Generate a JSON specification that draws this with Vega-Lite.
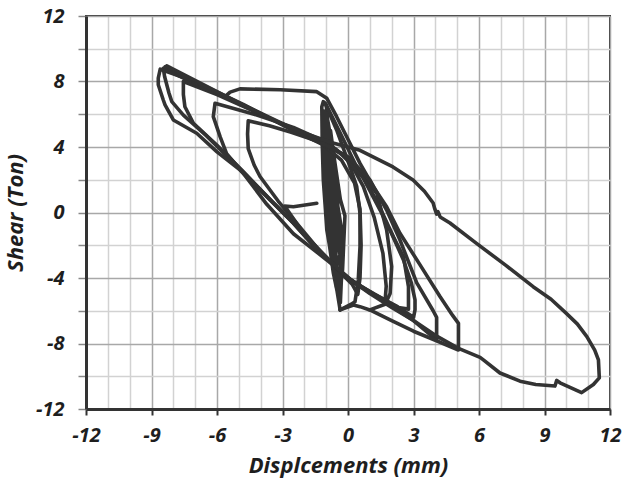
{
"$schema": "https://vega.github.io/schema/vega-lite/v6.json",
"width": 524, "height": 393,
"autosize": {"type": "none"},
"padding": {"left": 86, "top": 16, "right": 13, "bottom": 77},
"background": "white",
"config": {"view": {"stroke": "#333333", "strokeWidth": 2}, "font": "Open Sans"},
"data": {"values": [
{"s":"p","i":0,"x":-0.36,"y":-5.95},{"s":"p","i":1,"x":-0.5,"y":-4.8},{"s":"p","i":2,"x":-0.67,"y":-3.71},{"s":"p","i":3,"x":-0.85,"y":-2.0},{"s":"p","i":4,"x":-0.97,"y":-1.07},{"s":"p","i":5,"x":-1.05,"y":0.5},{"s":"p","i":6,"x":-1.13,"y":1.98},{"s":"p","i":7,"x":-1.18,"y":4.2},{"s":"p","i":8,"x":-1.2,"y":6.46},{"s":"p","i":9,"x":-1.13,"y":6.77},{"s":"p","i":10,"x":-1.0,"y":6.6},{"s":"p","i":11,"x":-0.9,"y":5.2},{"s":"p","i":12,"x":-0.75,"y":3.0},{"s":"p","i":13,"x":-0.55,"y":0.5},{"s":"p","i":14,"x":-0.4,"y":-2.0},{"s":"p","i":15,"x":-0.3,"y":-4.0},{"s":"p","i":16,"x":-0.35,"y":-5.5},{"s":"p","i":17,"x":-0.55,"y":-4.5},{"s":"p","i":18,"x":-0.75,"y":-2.5},{"s":"p","i":19,"x":-0.85,"y":-0.5},{"s":"p","i":20,"x":-0.95,"y":1.5},{"s":"p","i":21,"x":-1.05,"y":4.0},{"s":"p","i":22,"x":-1.1,"y":6.2},{"s":"p","i":23,"x":-0.95,"y":5.8},{"s":"p","i":24,"x":-0.65,"y":3.5},{"s":"p","i":25,"x":-0.35,"y":0.8},{"s":"p","i":26,"x":-0.14,"y":-0.2},{"s":"p","i":27,"x":-0.2,"y":-2.0},{"s":"p","i":28,"x":-0.25,"y":-3.5},{"s":"p","i":29,"x":-0.4,"y":-5.0},{"s":"p","i":30,"x":-0.6,"y":-3.0},{"s":"p","i":31,"x":-0.75,"y":-1.0},{"s":"p","i":32,"x":-0.85,"y":1.0},{"s":"p","i":33,"x":-0.9,"y":3.5},{"s":"p","i":34,"x":-0.8,"y":5.0},{"s":"p","i":35,"x":-0.55,"y":2.5},{"s":"p","i":36,"x":-0.45,"y":0.0},{"s":"p","i":37,"x":-0.35,"y":-2.5},{"s":"p","i":38,"x":-0.5,"y":-3.2},{"s":"p","i":39,"x":-0.65,"y":-1.5},{"s":"p","i":40,"x":-0.7,"y":0.5},{"s":"p","i":41,"x":-0.8,"y":2.5},{"s":"p","i":42,"x":-0.95,"y":4.5},{"s":"p","i":43,"x":-1.0,"y":6.0},{"s":"p","i":44,"x":-0.85,"y":4.0},{"s":"p","i":45,"x":-0.6,"y":1.5},{"s":"p","i":46,"x":-0.3,"y":-1.0},{"s":"p","i":47,"x":-0.3,"y":-3.0},{"s":"p","i":48,"x":-0.45,"y":-4.2},{"s":"p","i":49,"x":-0.7,"y":-2.0},{"s":"p","i":50,"x":-0.9,"y":0.0},{"s":"p","i":51,"x":-1.0,"y":2.5},{"s":"p","i":52,"x":-0.7,"y":1.0},{"s":"p","i":53,"x":-0.5,"y":-1.0},{"s":"p","i":54,"x":-0.55,"y":-2.5},

{"s":"r1","i":0,"x":-1.05,"y":6.67},{"s":"r1","i":1,"x":-0.52,"y":5.04},{"s":"r1","i":2,"x":0.09,"y":2.8},{"s":"r1","i":3,"x":0.4,"y":1.58},{"s":"r1","i":4,"x":0.55,"y":-0.05},{"s":"r1","i":5,"x":0.55,"y":-2.09},{"s":"r1","i":6,"x":0.47,"y":-4.12},{"s":"r1","i":7,"x":0.32,"y":-5.45},{"s":"r1","i":8,"x":0.15,"y":-5.6},{"s":"r1","i":9,"x":-0.36,"y":-5.95},

{"s":"r2","i":0,"x":-0.97,"y":6.5},{"s":"r2","i":1,"x":-0.3,"y":4.7},{"s":"r2","i":2,"x":0.5,"y":2.5},{"s":"r2","i":3,"x":1.32,"y":1.17},{"s":"r2","i":4,"x":1.77,"y":-1.07},{"s":"r2","i":5,"x":2.0,"y":-3.3},{"s":"r2","i":6,"x":1.93,"y":-4.94},{"s":"r2","i":7,"x":1.7,"y":-5.6},{"s":"r2","i":8,"x":1.0,"y":-5.95},

{"s":"c1","i":0,"x":-4.57,"y":5.6},{"s":"c1","i":1,"x":-4.6,"y":4.8},{"s":"c1","i":2,"x":-4.57,"y":3.9},{"s":"c1","i":3,"x":-4.3,"y":2.9},{"s":"c1","i":4,"x":-4.03,"y":2.2},{"s":"c1","i":5,"x":-3.2,"y":0.7},{"s":"c1","i":6,"x":-2.2,"y":-0.9},{"s":"c1","i":7,"x":-1.2,"y":-2.5},{"s":"c1","i":8,"x":-0.4,"y":-3.6},{"s":"c1","i":9,"x":0.2,"y":-4.4},{"s":"c1","i":10,"x":0.45,"y":-5.0},{"s":"c1","i":11,"x":0.55,"y":-4.0},{"s":"c1","i":12,"x":0.6,"y":-2.0},{"s":"c1","i":13,"x":0.55,"y":0.2},{"s":"c1","i":14,"x":0.3,"y":1.8},{"s":"c1","i":15,"x":-0.3,"y":3.2},{"s":"c1","i":16,"x":-1.28,"y":4.3},{"s":"c1","i":17,"x":-2.6,"y":4.9},{"s":"c1","i":18,"x":-3.6,"y":5.3},{"s":"c1","i":19,"x":-4.57,"y":5.6},

{"s":"c2","i":0,"x":-6.09,"y":6.67},{"s":"c2","i":1,"x":-6.17,"y":5.85},{"s":"c2","i":2,"x":-5.85,"y":4.6},{"s":"c2","i":3,"x":-5.56,"y":3.6},{"s":"c2","i":4,"x":-4.8,"y":2.4},{"s":"c2","i":5,"x":-3.72,"y":0.5},{"s":"c2","i":6,"x":-2.5,"y":-1.3},{"s":"c2","i":7,"x":-0.97,"y":-2.9},{"s":"c2","i":8,"x":0.2,"y":-4.2},{"s":"c2","i":9,"x":1.0,"y":-4.9},{"s":"c2","i":10,"x":1.7,"y":-5.4},{"s":"c2","i":11,"x":1.75,"y":-4.5},{"s":"c2","i":12,"x":1.6,"y":-2.5},{"s":"c2","i":13,"x":1.2,"y":-0.3},{"s":"c2","i":14,"x":0.7,"y":1.6},{"s":"c2","i":15,"x":0.0,"y":3.3},{"s":"c2","i":16,"x":-1.0,"y":4.3},{"s":"c2","i":17,"x":-2.5,"y":5.2},{"s":"c2","i":18,"x":-4.3,"y":6.0},{"s":"c2","i":19,"x":-6.09,"y":6.67},

{"s":"c3","i":0,"x":-7.54,"y":8.0},{"s":"c3","i":1,"x":-7.54,"y":7.2},{"s":"c3","i":2,"x":-7.47,"y":6.46},{"s":"c3","i":3,"x":-7.08,"y":5.45},{"s":"c3","i":4,"x":-6.0,"y":4.1},{"s":"c3","i":5,"x":-4.8,"y":2.5},{"s":"c3","i":6,"x":-3.5,"y":0.7},{"s":"c3","i":7,"x":-2.3,"y":-0.9},{"s":"c3","i":8,"x":-1.0,"y":-2.8},{"s":"c3","i":9,"x":0.3,"y":-4.3},{"s":"c3","i":10,"x":1.5,"y":-5.2},{"s":"c3","i":11,"x":2.3,"y":-5.8},{"s":"c3","i":12,"x":2.77,"y":-5.9},{"s":"c3","i":13,"x":2.77,"y":-5.0},{"s":"c3","i":14,"x":2.77,"y":-4.53},{"s":"c3","i":15,"x":2.54,"y":-2.7},{"s":"c3","i":16,"x":2.08,"y":-1.48},{"s":"c3","i":17,"x":1.3,"y":0.76},{"s":"c3","i":18,"x":0.5,"y":2.6},{"s":"c3","i":19,"x":-0.6,"y":3.9},{"s":"c3","i":20,"x":-2.0,"y":4.8},{"s":"c3","i":21,"x":-4.0,"y":6.0},{"s":"c3","i":22,"x":-6.0,"y":7.2},{"s":"c3","i":23,"x":-7.54,"y":8.0},

{"s":"c4","i":0,"x":-8.46,"y":8.8},{"s":"c4","i":1,"x":-8.4,"y":8.3},{"s":"c4","i":2,"x":-8.2,"y":7.3},{"s":"c4","i":3,"x":-8.07,"y":6.77},{"s":"c4","i":4,"x":-7.54,"y":5.95},{"s":"c4","i":5,"x":-6.5,"y":4.7},{"s":"c4","i":6,"x":-5.2,"y":3.0},{"s":"c4","i":7,"x":-3.8,"y":1.1},{"s":"c4","i":8,"x":-2.6,"y":-0.5},{"s":"c4","i":9,"x":-1.3,"y":-2.4},{"s":"c4","i":10,"x":0.0,"y":-4.0},{"s":"c4","i":11,"x":1.2,"y":-5.0},{"s":"c4","i":12,"x":2.2,"y":-5.7},{"s":"c4","i":13,"x":3.0,"y":-6.4},{"s":"c4","i":14,"x":3.07,"y":-5.95},{"s":"c4","i":15,"x":3.07,"y":-5.34},{"s":"c4","i":16,"x":2.9,"y":-4.3},{"s":"c4","i":17,"x":2.54,"y":-2.9},{"s":"c4","i":18,"x":2.0,"y":-1.3},{"s":"c4","i":19,"x":1.47,"y":0.15},{"s":"c4","i":20,"x":0.7,"y":2.1},{"s":"c4","i":21,"x":-0.3,"y":3.6},{"s":"c4","i":22,"x":-1.74,"y":4.53},{"s":"c4","i":23,"x":-3.5,"y":5.7},{"s":"c4","i":24,"x":-5.5,"y":6.95},{"s":"c4","i":25,"x":-7.2,"y":8.0},{"s":"c4","i":26,"x":-8.46,"y":8.8},

{"s":"c5","i":0,"x":-8.6,"y":8.75},{"s":"c5","i":1,"x":-8.69,"y":8.2},{"s":"c5","i":2,"x":-8.69,"y":7.8},{"s":"c5","i":3,"x":-8.46,"y":6.87},{"s":"c5","i":4,"x":-8.38,"y":6.57},{"s":"c5","i":5,"x":-8.0,"y":5.65},{"s":"c5","i":6,"x":-6.93,"y":4.84},{"s":"c5","i":7,"x":-6.0,"y":3.7},{"s":"c5","i":8,"x":-4.95,"y":2.6},{"s":"c5","i":9,"x":-3.57,"y":0.76},{"s":"c5","i":10,"x":-2.5,"y":-0.66},{"s":"c5","i":11,"x":-1.28,"y":-2.49},{"s":"c5","i":12,"x":0.0,"y":-4.0},{"s":"c5","i":13,"x":1.5,"y":-5.3},{"s":"c5","i":14,"x":3.0,"y":-6.6},{"s":"c5","i":15,"x":4.06,"y":-7.8},{"s":"c5","i":16,"x":4.06,"y":-7.0},{"s":"c5","i":17,"x":4.06,"y":-6.4},{"s":"c5","i":18,"x":3.9,"y":-6.0},{"s":"c5","i":19,"x":3.15,"y":-4.3},{"s":"c5","i":20,"x":2.38,"y":-1.68},{"s":"c5","i":21,"x":1.77,"y":0.15},{"s":"c5","i":22,"x":1.0,"y":2.0},{"s":"c5","i":23,"x":0.0,"y":3.4},{"s":"c5","i":24,"x":-1.0,"y":4.1},{"s":"c5","i":25,"x":-2.5,"y":5.0},{"s":"c5","i":26,"x":-4.8,"y":6.6},{"s":"c5","i":27,"x":-7.0,"y":8.0},{"s":"c5","i":28,"x":-8.6,"y":8.75},

{"s":"c6","i":0,"x":-8.38,"y":8.9},{"s":"c6","i":1,"x":-7.08,"y":8.04},{"s":"c6","i":2,"x":-5.63,"y":7.08},{"s":"c6","i":3,"x":-5.4,"y":7.35},{"s":"c6","i":4,"x":-4.95,"y":7.55},{"s":"c6","i":5,"x":-3.1,"y":7.5},{"s":"c6","i":6,"x":-1.43,"y":7.38},{"s":"c6","i":7,"x":-0.97,"y":6.97},{"s":"c6","i":8,"x":-0.52,"y":5.85},{"s":"c6","i":9,"x":-0.06,"y":4.63},{"s":"c6","i":10,"x":0.55,"y":3.0},{"s":"c6","i":11,"x":1.16,"y":1.58},{"s":"c6","i":12,"x":1.77,"y":0.35},{"s":"c6","i":13,"x":2.38,"y":-1.27},{"s":"c6","i":14,"x":3.3,"y":-3.2},{"s":"c6","i":15,"x":4.22,"y":-5.14},{"s":"c6","i":16,"x":4.8,"y":-6.3},{"s":"c6","i":17,"x":5.06,"y":-6.77},{"s":"c6","i":18,"x":5.06,"y":-7.6},{"s":"c6","i":19,"x":5.06,"y":-8.4},{"s":"c6","i":20,"x":4.0,"y":-7.8},{"s":"c6","i":21,"x":3.0,"y":-7.25},{"s":"c6","i":22,"x":2.0,"y":-6.6},{"s":"c6","i":23,"x":1.0,"y":-5.95},{"s":"c6","i":24,"x":0.55,"y":-5.75},{"s":"c6","i":25,"x":0.25,"y":-5.65},{"s":"c6","i":26,"x":-0.36,"y":-5.95},

{"s":"big","i":0,"x":-8.3,"y":8.95},{"s":"big","i":1,"x":-5.0,"y":6.7},{"s":"big","i":2,"x":-2.2,"y":4.93},{"s":"big","i":3,"x":-0.69,"y":4.24},{"s":"big","i":4,"x":0.55,"y":3.8},{"s":"big","i":5,"x":2.06,"y":2.78},{"s":"big","i":6,"x":2.98,"y":1.98},{"s":"big","i":7,"x":3.5,"y":1.3},{"s":"big","i":8,"x":3.9,"y":0.58},{"s":"big","i":9,"x":3.98,"y":0.2},{"s":"big","i":10,"x":4.06,"y":-0.1},{"s":"big","i":11,"x":4.12,"y":0.05},{"s":"big","i":12,"x":4.22,"y":-0.27},{"s":"big","i":13,"x":4.67,"y":-0.64},{"s":"big","i":14,"x":5.9,"y":-1.9},{"s":"big","i":15,"x":7.2,"y":-3.2},{"s":"big","i":16,"x":8.48,"y":-4.53},{"s":"big","i":17,"x":9.3,"y":-5.3},{"s":"big","i":18,"x":10.0,"y":-6.16},{"s":"big","i":19,"x":10.5,"y":-6.8},{"s":"big","i":20,"x":10.94,"y":-7.58},{"s":"big","i":21,"x":11.3,"y":-8.4},{"s":"big","i":22,"x":11.47,"y":-9.0},{"s":"big","i":23,"x":11.51,"y":-10.1},{"s":"big","i":24,"x":11.24,"y":-10.5},{"s":"big","i":25,"x":10.7,"y":-11.0},{"s":"big","i":26,"x":9.71,"y":-10.4},{"s":"big","i":27,"x":9.56,"y":-10.25},{"s":"big","i":28,"x":9.48,"y":-10.6},{"s":"big","i":29,"x":8.6,"y":-10.5},{"s":"big","i":30,"x":7.88,"y":-10.3},{"s":"big","i":31,"x":6.96,"y":-9.8},{"s":"big","i":32,"x":6.2,"y":-9.0},{"s":"big","i":33,"x":6.05,"y":-8.85},{"s":"big","i":34,"x":5.06,"y":-8.3},{"s":"big","i":35,"x":4.0,"y":-7.5},{"s":"big","i":36,"x":3.0,"y":-6.6},{"s":"big","i":37,"x":2.0,"y":-5.8},{"s":"big","i":38,"x":1.0,"y":-4.95},{"s":"big","i":39,"x":0.0,"y":-4.0},{"s":"big","i":40,"x":-1.0,"y":-2.7},{"s":"big","i":41,"x":-2.0,"y":-1.35},{"s":"big","i":42,"x":-2.9,"y":0.4},{"s":"big","i":43,"x":-2.5,"y":0.35},{"s":"big","i":44,"x":-1.43,"y":0.56}
]},
"mark": {"type": "line", "color": "#333333", "strokeWidth": 3.6, "strokeJoin": "round", "strokeCap": "round", "clip": true},
"encoding": {
  "detail": {"field": "s", "type": "nominal"},
  "order": {"field": "i", "type": "quantitative"},
  "x": {"field": "x", "type": "quantitative", "scale": {"domain": [-12, 12], "nice": false, "zero": false},
    "axis": {"values": [-12,-11,-10,-9,-8,-7,-6,-5,-4,-3,-2,-1,0,1,2,3,4,5,6,7,8,9,10,11,12],
      "labelExpr": "datum.value % 3 === 0 ? '' + datum.value : ''", "labelOverlap": false, "labelFlush": false,
      "labelFont": "Open Sans", "labelFontSize": 20, "labelFontWeight": "bold", "labelFontStyle": "italic", "labelColor": "#1e1e1e", "labelPadding": 10,
      "gridColor": {"condition": {"test": "datum.value % 3 === 0", "value": "#a8a8a8"}, "value": "#d2d2d2"}, "gridWidth": 1.5,
      "tickOpacity": {"condition": {"test": "datum.value % 3 === 0", "value": 1}, "value": 0}, "tickColor": "#333333", "tickWidth": 2, "tickSize": 6,
      "domainColor": "#333333", "domainWidth": 3,
      "title": "Displcements (mm)", "titleFont": "Open Sans", "titleFontSize": 22, "titleFontWeight": "bold", "titleFontStyle": "italic", "titleColor": "#1e1e1e", "titlePadding": 10}},
  "y": {"field": "y", "type": "quantitative", "scale": {"domain": [-12, 12], "nice": false, "zero": false},
    "axis": {"values": [-12,-10,-8,-6,-4,-2,0,2,4,6,8,10,12],
      "labelExpr": "datum.value % 4 === 0 ? '' + datum.value : ''", "labelOverlap": false, "labelFlush": false,
      "labelFont": "Open Sans", "labelFontSize": 20, "labelFontWeight": "bold", "labelFontStyle": "italic", "labelColor": "#1e1e1e", "labelPadding": 14,
      "gridColor": {"condition": {"test": "datum.value % 4 === 0", "value": "#a8a8a8"}, "value": "#d2d2d2"}, "gridWidth": 1.5,
      "tickColor": "#888888", "tickWidth": 1.5, "tickSize": 8,
      "domainColor": "#333333", "domainWidth": 3,
      "title": "Shear (Ton)", "titleFont": "Open Sans", "titleFontSize": 22, "titleFontWeight": "bold", "titleFontStyle": "italic", "titleColor": "#1e1e1e", "titlePadding": 8}}
}
}
